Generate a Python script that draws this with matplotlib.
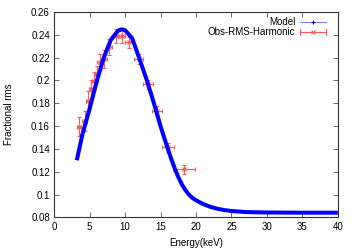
import matplotlib
matplotlib.use("Agg")
import matplotlib.pyplot as plt
from matplotlib.ticker import FuncFormatter, MultipleLocator

plt.rcParams['font.family'] = ['Liberation Sans', 'DejaVu Sans']

# model curve
model_energy = [3.2, 4, 5, 6, 7, 8, 9, 9.5, 10, 11, 12, 13, 14, 15, 16, 16.5,
                17, 17.5, 18, 18.5, 19, 19.5, 20, 21, 22, 23, 24, 25, 26, 27,
                28, 30, 32, 35, 40]
model_rms = [0.130, 0.153, 0.175, 0.199, 0.220, 0.2355, 0.2435, 0.2448, 0.2440,
             0.2370, 0.2195, 0.2015, 0.1815, 0.1600, 0.1405, 0.1315, 0.1230,
             0.1155, 0.1090, 0.1040, 0.1000, 0.0970, 0.0950, 0.0917, 0.0893,
             0.0876, 0.0864, 0.0856, 0.0851, 0.0847, 0.0845, 0.0843, 0.0842,
             0.0841, 0.0841]

# observed rms of the harmonic
obs_energy = [3.5, 4.3, 4.75, 5.15, 5.6, 6.0, 6.4, 7.05, 7.7, 8.7, 9.55, 10.6,
              11.9, 13.25, 14.45, 16.0, 18.35]
obs_rms = [0.1595, 0.1646, 0.182, 0.1926, 0.1997, 0.2056, 0.2164, 0.2187,
           0.2295, 0.2390, 0.2388, 0.2333, 0.2188, 0.1968, 0.1735, 0.1415, 0.1222]
obs_xerr = [0.25, 0.3, 0.25, 0.25, 0.25, 0.3, 0.3, 0.35, 0.4, 0.45, 0.5, 0.6,
            0.65, 0.65, 0.7, 0.85, 1.55]
obs_yerr = [0.0085, 0.009, 0.009, 0.008, 0.008, 0.007, 0.007, 0.008, 0.007,
            0.006, 0.006, 0.005, 0.004, 0.004, 0.004, 0.004, 0.004]

fig = plt.figure(figsize=(3.56, 2.49), dpi=100)
ax = fig.add_axes([0.152, 0.127, 0.797, 0.825])

red = (1.0, 0.35, 0.35)

ax.plot(model_energy, model_rms, color='#0000ff', lw=2.9, solid_capstyle='butt',
        solid_joinstyle='round', zorder=3)
ax.errorbar(obs_energy, obs_rms, xerr=obs_xerr, yerr=obs_yerr, fmt='x',
            color=red, ms=3, mew=0.8, elinewidth=0.8, capsize=1.5, capthick=0.8,
            zorder=2)

ax.set_xlim(0, 40)
ax.set_ylim(0.08, 0.26)
ax.xaxis.set_major_locator(MultipleLocator(5))
ax.yaxis.set_major_locator(MultipleLocator(0.02))
ax.yaxis.set_major_formatter(FuncFormatter(lambda v, p: '%g' % round(v, 2)))
ax.tick_params(direction='in', length=3.5, width=0.6, labelsize=7,
               top=True, right=True, pad=3, color='#555555')
for s in ax.spines.values():
    s.set_linewidth(0.8)
    s.set_color('#333333')

ax.set_xlabel('Energy(keV)', fontsize=7, labelpad=5)
ax.set_ylabel('Fractional rms', fontsize=7, labelpad=12)

# gnuplot style key: right aligned text, sample to the right
tr = ax.transAxes
ax.text(0.85, 0.953, 'Model', transform=tr, ha='right', va='center', fontsize=7)
ax.plot([0.866, 0.96], [0.953, 0.953], transform=tr, color='#8080ff', lw=0.8)
ax.plot([0.913], [0.953], transform=tr, marker='+', color='#0000ff', ms=3,
        mew=0.8)
ax.text(0.85, 0.904, 'Obs-RMS-Harmonic', transform=tr, ha='right', va='center',
        fontsize=7)
ax.plot([0.866, 0.96], [0.904, 0.904], transform=tr, color=red, lw=0.8)
ax.plot([0.866, 0.866], [0.89, 0.918], transform=tr, color=red, lw=0.8)
ax.plot([0.96, 0.96], [0.89, 0.918], transform=tr, color=red, lw=0.8)
ax.plot([0.913], [0.904], transform=tr, marker='x', color=red, ms=3, mew=0.8)

fig.savefig('out.png', dpi=100)
